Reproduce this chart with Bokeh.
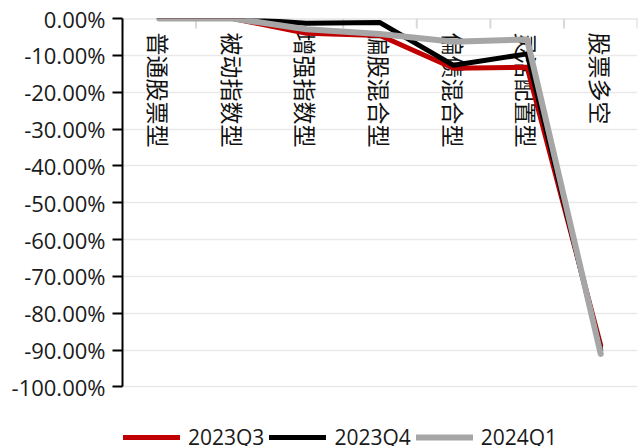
import math
from bokeh.plotting import figure
from bokeh.models import (FactorRange, Range1d, FixedTicker, Span,
                          PrintfTickFormatter, Legend, LegendItem, ColumnDataSource)
from bokeh.core.properties import value
from bokeh.transform import dodge
from bokeh.embed import file_html
from bokeh.resources import INLINE

# Fund categories and the change per quarter (in percent)
categories = ["普通股票型", "被动指数型", "增强指数型", "偏股混合型",
              "偏债混合型", "灵活配置型", "股票多空"]
q2023q3 = [0.0, 0.0, -4.0, -4.6, -13.5, -13.2, -88.7]
q2023q4 = [0.0, 0.0, -1.3, -1.1, -12.7, -9.6, -90.0]
q2024q1 = [0.0, 0.0, -2.9, -4.2, -6.3, -5.7, -91.0]
series_names = ["2023Q3", "2023Q4", "2024Q1"]
y_ticks = [0, -10, -20, -30, -40, -50, -60, -70, -80, -90, -100]

NUM_FONT = "Open Sans"
CJK_FONT = "Noto Sans CJK SC"
AXIS_GREY = "#d9d9d9"

# the frame runs on below -100% so the legend strip at the bottom stays inside it;
# the value axis itself is bounded to 0 .. -100%
p = figure(width=644, height=446, output_backend="svg", toolbar_location=None,
           x_range=FactorRange(factors=categories, range_padding=0),
           y_range=Range1d(-116.15, 0), x_axis_location=None,
           min_border_left=122, min_border_right=7,
           min_border_top=18, min_border_bottom=0)
p.outline_line_color = None
p.background_fill_color = "white"
p.border_fill_color = "white"
p.xgrid.visible = False

# value axis on the left
yax = p.yaxis[0]
yax.bounds = (-100, 0)
yax.ticker = FixedTicker(ticks=y_ticks)
yax.formatter = PrintfTickFormatter(format="%.2f%%")
yax.axis_line_color = "black"
yax.axis_line_width = 2
yax.major_tick_line_color = "black"
yax.major_tick_line_width = 2
yax.major_tick_out = 10
yax.major_tick_in = 0
yax.minor_tick_line_color = None
yax.major_label_standoff = 7
yax.major_label_text_font = NUM_FONT
yax.major_label_text_font_size = "22px"
yax.major_label_text_color = "#1a1a1a"

p.ygrid.ticker = FixedTicker(ticks=y_ticks)
p.ygrid.grid_line_color = "#e9e9e9"
p.ygrid.grid_line_width = 1.5

# category axis line along zero, with short ticks on the category boundaries
p.add_layout(Span(location=0, dimension="width", line_color=AXIS_GREY,
                  line_width=2, level="underlay"))
cat_src = ColumnDataSource(dict(cat=categories))
last_src = ColumnDataSource(dict(cat=categories[-1:]))
p.ray(x=dodge("cat", -0.5, range=p.x_range), y=0, source=cat_src,
      length=10, length_units="screen", angle=-math.pi / 2,
      line_color=AXIS_GREY, line_width=2)
p.ray(x=dodge("cat", 0.5, range=p.x_range), y=0, source=last_src,
      length=10, length_units="screen", angle=-math.pi / 2,
      line_color=AXIS_GREY, line_width=2)

# rotated category names hanging under the zero line
p.text(x="cat", y=0, text="cat", source=cat_src, angle=-math.pi / 2,
       text_align="left", text_baseline="middle", y_offset=14,
       text_font=value(CJK_FONT), text_font_size="23px", text_color="#111111")

colors = ["#c00000", "#000000", "#a6a6a6"]
widths = [5, 5, 6]
renderers = []
for vals, color, w in zip([q2023q3, q2023q4, q2024q1], colors, widths):
    r = p.line(categories, vals, line_color=color, line_width=w,
               line_cap="round", line_join="round")
    renderers.append(r)

legend = Legend(items=[LegendItem(label=n, renderers=[r])
                       for n, r in zip(series_names, renderers)],
                orientation="horizontal", location=(1, -5),
                glyph_width=57, glyph_height=20, label_standoff=8, spacing=5,
                padding=0, margin=0, border_line_color=None,
                background_fill_alpha=0,
                label_text_font=NUM_FONT, label_text_font_size="21px",
                label_text_color="#1a1a1a")
p.add_layout(legend, "center")

open("out.html", "w").write(file_html(p, INLINE))
